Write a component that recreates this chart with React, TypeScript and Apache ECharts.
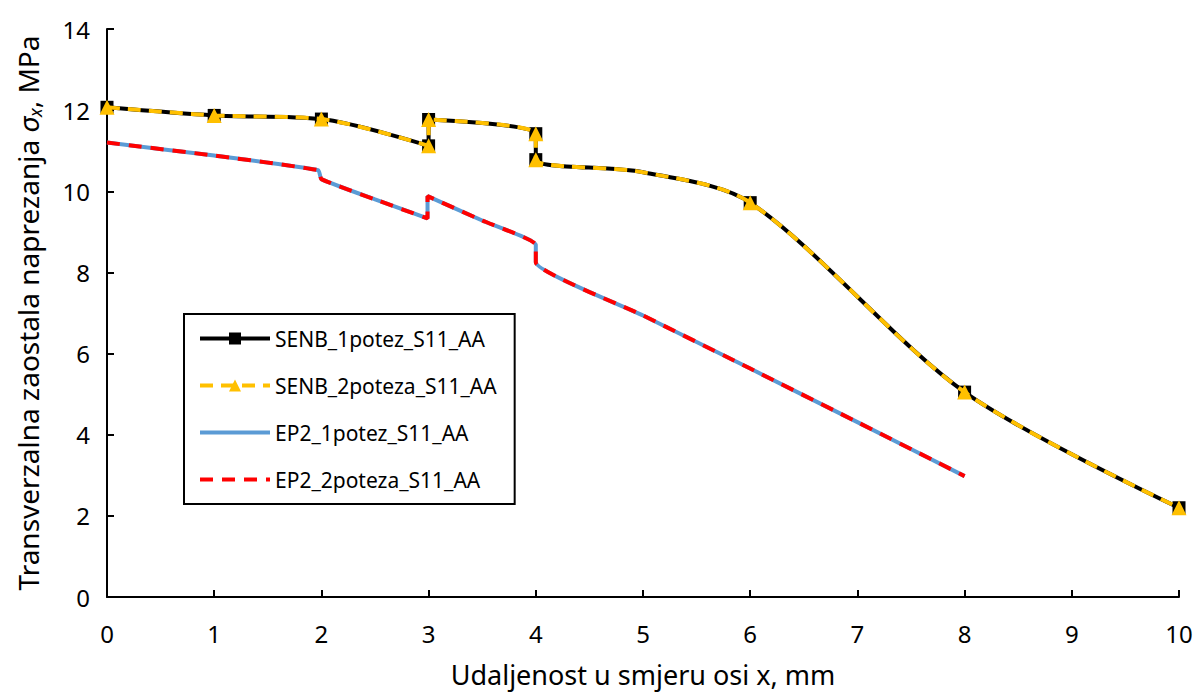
import React, { useEffect, useRef } from "react";
import * as echarts from "echarts";

// SENB series (both coincide); markers shown where flag = 1
const senbX = [0, 1, 2, 3, 3, 4, 4, 5, 6, 8, 10];
const senb1Y = [12.07, 11.87, 11.78, 11.12, 11.77, 11.42, 10.78, 10.47, 9.72, 5.05, 2.2];
const senb2Y = [12.07, 11.87, 11.78, 11.12, 11.77, 11.42, 10.78, 10.47, 9.72, 5.05, 2.2];
const senbMarker = [1, 1, 1, 1, 1, 1, 1, 0, 1, 1, 1];

// EP2 series (both coincide)
const ep2X = [0, 1, 1.97, 2, 2.5, 2.99, 2.99, 3.5, 4, 4, 5, 6, 7, 8];
const ep21Y = [11.2, 10.88, 10.52, 10.3, 9.8, 9.33, 9.88, 9.28, 8.68, 8.25, 6.94, 5.63, 4.31, 2.98];
const ep22Y = [11.2, 10.88, 10.52, 10.3, 9.8, 9.33, 9.88, 9.28, 8.68, 8.25, 6.94, 5.63, 4.31, 2.98];

const seriesNames = ["SENB_1potez_S11_AA", "SENB_2poteza_S11_AA", "EP2_1potez_S11_AA", "EP2_2poteza_S11_AA"];
const xTitle = "Udaljenost u smjeru osi x, mm";

const FONT = "Noto Sans";

export default function App() {
  const ref = useRef<HTMLDivElement>(null);
  useEffect(() => {
    if (!ref.current) return;
    const chart = echarts.init(ref.current, undefined, { renderer: "svg" });
    const senbData = (ys: number[]) =>
      senbX.map((x, i) => (senbMarker[i] ? [x, ys[i]] : { value: [x, ys[i]], symbol: "none" }));
    const ep2Data = (ys: number[]) => ep2X.map((x, i) => [x, ys[i]]);
    chart.setOption({
      animation: false,
      textStyle: { fontFamily: FONT },
      grid: { left: 107, right: 17, top: 29, bottom: 98 },
      legend: {
        orient: "vertical",
        left: 184,
        top: 314,
        padding: [14, 18, 14, 14],
        itemGap: 26,
        itemWidth: 70,
        itemHeight: 15,
        backgroundColor: "#fff",
        borderColor: "#000",
        borderWidth: 2,
        borderRadius: 0,
        lineStyle: { width: 4 },
        textStyle: { fontSize: 21, color: "#000", fontFamily: FONT },
        data: [
          { name: seriesNames[0] },
          { name: seriesNames[1] },
          { name: seriesNames[2], itemStyle: { opacity: 0 } },
          { name: seriesNames[3], itemStyle: { opacity: 0 } },
        ],
      },
      xAxis: {
        type: "value",
        min: 0,
        max: 10,
        interval: 1,
        name: xTitle,
        nameLocation: "middle",
        nameGap: 64,
        nameTextStyle: { fontSize: 27, color: "#000", fontFamily: FONT },
        axisLine: { lineStyle: { color: "#000", width: 2 } },
        axisTick: { inside: true, length: 7, lineStyle: { color: "#000", width: 2 } },
        axisLabel: { fontSize: 24, color: "#000", margin: 24, fontFamily: FONT },
        splitLine: { show: false },
      },
      yAxis: {
        type: "value",
        min: 0,
        max: 14,
        interval: 2,
        name: "{a|Transverzalna zaostala naprezanja }{i|σ}{s|x}{a|, MPa}",
        nameLocation: "middle",
        nameGap: 63,
        nameTextStyle: {
          color: "#000",
          rich: {
            a: { fontSize: 28, lineHeight: 32, color: "#000", fontFamily: FONT },
            i: { fontSize: 28, lineHeight: 32, fontStyle: "italic", color: "#000", fontFamily: FONT },
            s: { fontSize: 18, lineHeight: 20, fontStyle: "italic", color: "#000", fontFamily: FONT, verticalAlign: "bottom" },
          },
        },
        axisLine: { show: true, lineStyle: { color: "#000", width: 2 } },
        axisTick: { show: true, inside: true, length: 7, lineStyle: { color: "#000", width: 2 } },
        axisLabel: { fontSize: 24, color: "#000", margin: 17, fontFamily: FONT },
        splitLine: { show: false },
      },
      series: [
        {
          name: seriesNames[0],
          type: "line",
          smooth: 0.3,
          data: senbData(senb1Y),
          symbol: "rect",
          symbolSize: 13,
          lineStyle: { color: "#000", width: 4 },
          itemStyle: { color: "#000" },
          z: 2,
        },
        {
          name: seriesNames[1],
          type: "line",
          smooth: 0.3,
          data: senbData(senb2Y),
          symbol: "triangle",
          symbolSize: 15,
          lineStyle: { color: "#FFC000", width: 4, type: [13, 8] },
          itemStyle: { color: "#FFC000" },
          z: 3,
        },
        {
          name: seriesNames[2],
          type: "line",
          smooth: 0.15,
          data: ep2Data(ep21Y),
          showSymbol: false,
          symbol: "none",
          lineStyle: { color: "#5B9BD5", width: 4 },
          itemStyle: { color: "#5B9BD5" },
          z: 2,
        },
        {
          name: seriesNames[3],
          type: "line",
          smooth: 0.15,
          data: ep2Data(ep22Y),
          showSymbol: false,
          symbol: "none",
          lineStyle: { color: "#FF0000", width: 4, type: [13, 9] },
          itemStyle: { color: "#FF0000" },
          z: 3,
        },
      ],
    });
    return () => chart.dispose();
  }, []);
  return <div ref={ref} style={{ position: "fixed", left: 0, top: 0, width: 1196, height: 695, background: "#fff" }} />;
}
